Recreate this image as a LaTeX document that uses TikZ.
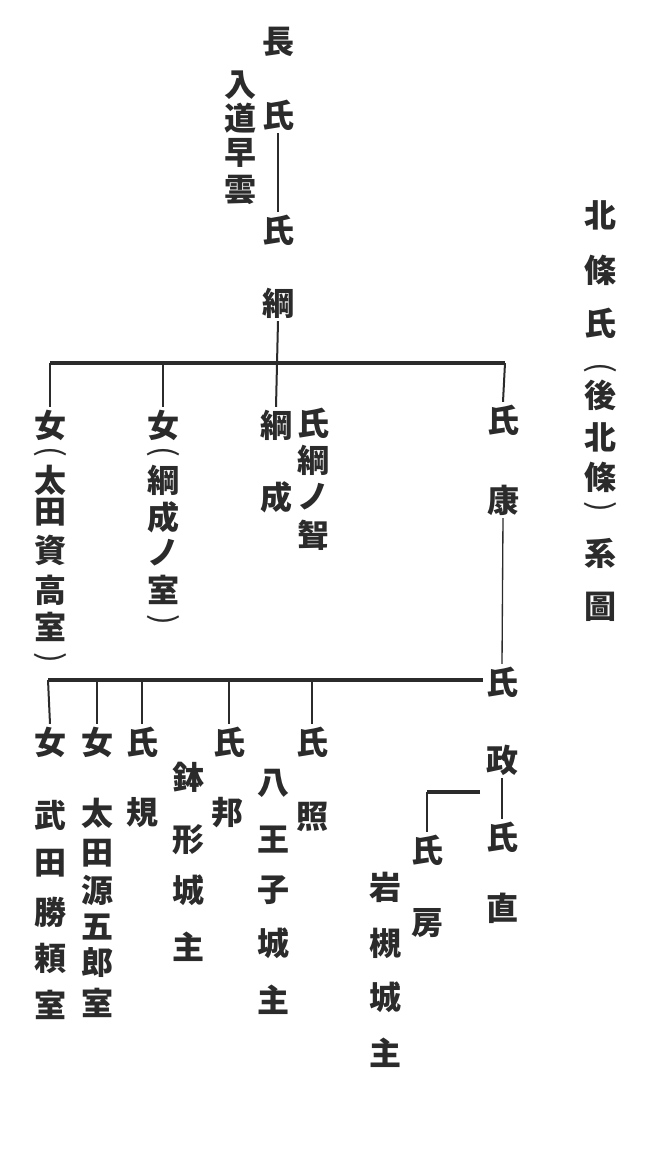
\documentclass[tikz,border=0pt]{standalone}
\usepackage{fontspec}
\newfontfamily\cjk{Noto Sans CJK JP}
\definecolor{ink}{HTML}{2B2B2B}
\begin{document}
\begin{tikzpicture}[x=0.75pt,y=-0.75pt,
  ch/.style={font=\cjk\bfseries\fontsize{24}{24}\selectfont, inner sep=2pt, text=ink},
  par/.style={font=\cjk\fontsize{24}{24}\selectfont, inner sep=0pt, text=ink, rotate=-90},
  hbar/.style={draw=ink, line width=2.3pt},
  vline/.style={draw=ink, line width=1.5pt},
  thinline/.style={draw=ink, line width=1pt}]
\useasboundingbox[fill=white] (0,0) rectangle (650,1149);
% title
\foreach \c/\y [count=\i] in {北/215,條/270,氏/323}
  \node[ch] (t\i) at (600,\y) {\c};
\node[par] (t4) at (600,368) {(};
\foreach \c/\y [count=\i from 5] in {後/395,北/437,條/477}
  \node[ch] (t\i) at (600,\y) {\c};
\node[par] (t8) at (600,507) {)};
\node[ch] (t9) at (600,553) {系};
\node[ch] (t10) at (600,607) {圖};
% 長氏 入道早雲
\node[ch] (a1) at (278,42) {長};
\node[ch] (a2) at (278,115) {氏};
\foreach \c/\y [count=\i] in {入/85,道/118,早/153,雲/190}
  \node[ch] (b\i) at (240,\y) {\c};
% 氏綱
\node[ch] (c1) at (278,230) {氏};
\node[ch] (c2) at (278,303) {綱};
% 女（太田資高室）
\node[ch] (d1) at (50,425) {女};
\node[par] (d2) at (50,452) {(};
\foreach \c/\y [count=\i from 3] in {太/480,田/512,資/550,高/590,室/627}
  \node[ch] (d\i) at (50,\y) {\c};
\node[par] (d8) at (50,658) {)};
% 女（綱成ノ室）
\node[ch] (e1) at (163,425) {女};
\node[par] (e2) at (163,452) {(};
\foreach \c/\y [count=\i from 3] in {綱/480,成/517,ノ/553,室/590}
  \node[ch] (e\i) at (163,\y) {\c};
\node[par] (e7) at (163,620) {)};
% 綱成 / 氏綱ノ聟
\node[ch] (f1) at (276,425) {綱};
\node[ch] (f2) at (276,497) {成};
\foreach \c/\y [count=\i] in {氏/423,綱/460,ノ/497,聟/535}
  \node[ch] (g\i) at (313,\y) {\c};
% 氏康
\node[ch] (ky1) at (503,420) {氏};
\node[ch] (ky2) at (503,500) {康};
% 氏政 氏直
\node[ch] (i1) at (502,682) {氏};
\node[ch] (i2) at (502,760) {政};
\node[ch] (i3) at (502,837) {氏};
\node[ch] (i4) at (502,908) {直};
% 女 武田勝頼室
\foreach \c/\y [count=\i] in {女/742,武/815,田/863,勝/912,頼/958,室/1005}
  \node[ch] (j\i) at (50,\y) {\c};
% 女 太田源五郎室
\foreach \c/\y [count=\i] in {女/742,太/813,田/853,源/890,五/927,郎/963,室/1003}
  \node[ch] (k\i) at (97,\y) {\c};
% 氏規
\node[ch] (l1) at (142,742) {氏};
\node[ch] (l2) at (142,813) {規};
% 氏邦 鉢形城主
\node[ch] (m1) at (229,742) {氏};
\node[ch] (m2) at (227,813) {邦};
\foreach \c/\y [count=\i] in {鉢/777,形/840,城/890,主/947}
  \node[ch] (n\i) at (188,\y) {\c};
% 氏照 八王子城主
\node[ch] (o1) at (312,742) {氏};
\node[ch] (o2) at (312,817) {照};
\foreach \c/\y [count=\i] in {八/783,王/840,子/890,城/943,主/1000}
  \node[ch] (p\i) at (273,\y) {\c};
% 氏房 岩槻城主
\node[ch] (q1) at (427,850) {氏};
\node[ch] (q2) at (427,923) {房};
\foreach \c/\y [count=\i] in {岩/887,槻/943,城/997,主/1053}
  \node[ch] (r\i) at (385,\y) {\c};
% connectors
\draw[vline] (a2.south) -- (c1.north);
\draw[vline] (c2.south) -- (f1.north);
\coordinate (h1L) at (50,363);
\coordinate (h1R) at (505,363);
\draw[hbar] (h1L) -- (h1R);
\draw[vline] (h1L) -- (d1.north);
\draw[vline] (e1.north |- h1L) -- (e1.north);
\draw[vline] (h1R) -- (ky1.north);
\draw[thinline] (ky2.south) -- (i1.north);
\coordinate (h2L) at (48,680);
\draw[hbar] (h2L) -- (i1.west |- h2L);
\draw[vline] (h2L) -- (j1.north);
\draw[vline] (k1.north |- h2L) -- (k1.north);
\draw[vline] (l1.north |- h2L) -- (l1.north);
\draw[vline] (m1.north |- h2L) -- (m1.north);
\draw[vline] (o1.north |- h2L) -- (o1.north);
\draw[vline] (i2.south) -- (i3.north);
\coordinate (br) at (480,792);
\draw[hbar] (br) -- (q1.north |- br);
\draw[vline] (q1.north |- br) -- (q1.north);
\end{tikzpicture}
\end{document}
